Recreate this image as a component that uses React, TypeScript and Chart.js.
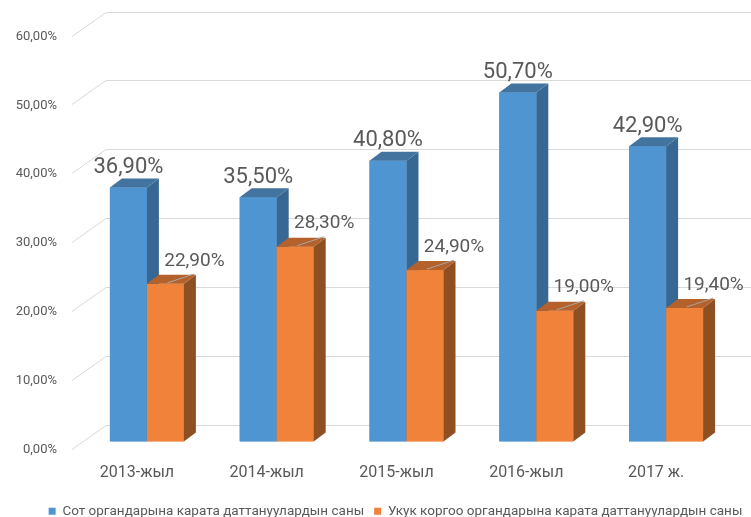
import React, { useEffect, useRef } from "react";
import { Chart, registerables } from "chart.js";

Chart.register(...registerables);

const categories = ["2013-жыл", "2014-жыл", "2015-жыл", "2016-жыл", "2017 ж."];
const seriesNames = [
  "Сот органдарына карата даттануулардын саны",
  "Укук коргоо органдарына карата даттануулардын саны",
];
const courtValues = [36.9, 35.5, 40.8, 50.7, 42.9];
const lawValues = [22.9, 28.3, 24.9, 19.0, 19.4];
const yTicks = [0, 10, 20, 30, 40, 50, 60];

const FONT = "Roboto, 'Open Sans', sans-serif";
const TEXT = "#595959";
const GRID = "#D9D9D9";
const DEPTH_X = 12;
const DEPTH_Y = -9;

const faceColors = [
  { front: "#4F95D2", side: "#376893", top: "#43739F" },
  { front: "#F0823A", side: "#8E4F23", top: "#B5612B" },
];

const fmt = (v: number) => v.toFixed(2).replace(".", ",") + "%";

const threeD = {
  id: "threeD",
  afterLayout(chart: any) {
    const lg = chart.legend;
    if (lg) {
      lg.left += 30;
      lg.right += 30;
    }
  },
  beforeDatasetsDraw(chart: any) {
    const ctx = chart.ctx;
    const y = chart.scales.y;
    ctx.save();
    ctx.strokeStyle = GRID;
    ctx.lineWidth = 1;
    for (const t of y.ticks) {
      const fy = y.getPixelForValue(t.value);
      ctx.beginPath();
      ctx.moveTo(72, Math.round(fy + 7) + 0.5);
      ctx.lineTo(106, Math.round(fy - 17) + 0.5);
      ctx.lineTo(chart.width, Math.round(fy - 17) + 0.5);
      ctx.stroke();
    }
    ctx.restore();
  },
  afterDatasetsDraw(chart: any) {
    const ctx = chart.ctx;
    const metas = [chart.getDatasetMeta(0), chart.getDatasetMeta(1)];
    ctx.save();
    for (let i = 0; i < categories.length; i++) {
      metas.forEach((meta: any, d: number) => {
        const bar = meta.data[i];
        const { x, y, base, width } = bar.getProps(["x", "y", "base", "width"], true);
        const x0 = x - width / 2;
        const x1 = x + width / 2;
        const c = faceColors[d];
        ctx.fillStyle = c.front;
        ctx.fillRect(x0, y, width, base - y);
        ctx.fillStyle = c.side;
        ctx.beginPath();
        ctx.moveTo(x1, y);
        ctx.lineTo(x1 + DEPTH_X, y + DEPTH_Y);
        ctx.lineTo(x1 + DEPTH_X, base + DEPTH_Y);
        ctx.lineTo(x1, base);
        ctx.closePath();
        ctx.fill();
        ctx.fillStyle = c.top;
        ctx.beginPath();
        ctx.moveTo(x0, y);
        ctx.lineTo(x1, y);
        ctx.lineTo(x1 + DEPTH_X, y + DEPTH_Y);
        ctx.lineTo(x0 + DEPTH_X, y + DEPTH_Y);
        ctx.closePath();
        ctx.fill();
      });
    }
    ctx.fillStyle = TEXT;
    ctx.textAlign = "center";
    ctx.textBaseline = "middle";
    metas.forEach((meta: any, d: number) => {
      const values = d === 0 ? courtValues : lawValues;
      meta.data.forEach((bar: any, i: number) => {
        const { x, y } = bar.getProps(["x", "y"], true);
        if (d === 0) {
          ctx.font = `22px ${FONT}`;
          ctx.fillText(fmt(values[i]), x, y - 20);
        } else {
          const lx = x + 29;
          const ly = y - 23;
          ctx.strokeStyle = "#A6A6A6";
          ctx.lineWidth = 1;
          ctx.beginPath();
          ctx.moveTo(x + 2, y - 1);
          ctx.lineTo(lx, ly + 13);
          ctx.stroke();
          ctx.font = `19px ${FONT}`;
          ctx.fillText(fmt(values[i]), lx, ly);
        }
      });
    });
    ctx.restore();
  },
};

export default function App() {
  const ref = useRef<HTMLCanvasElement | null>(null);
  useEffect(() => {
    if (!ref.current) return;
    const chart = new Chart(ref.current, {
      type: "bar",
      data: {
        labels: categories,
        datasets: [
          { label: seriesNames[0], data: courtValues, backgroundColor: faceColors[0].front },
          { label: seriesNames[1], data: lawValues, backgroundColor: faceColors[1].front },
        ],
      },
      options: {
        animation: false,
        responsive: false,
        layout: { padding: { top: 28.5, right: 20, bottom: -11, left: 0 } },
        datasets: { bar: { categoryPercentage: 0.57, barPercentage: 1 } },
        plugins: {
          legend: {
            position: "bottom",
            labels: {
              boxWidth: 7,
              boxHeight: 7,
              padding: 10,
              color: TEXT,
              font: { family: FONT, size: 13.5 },
            },
          },
          tooltip: { enabled: false },
        },
        scales: {
          x: {
            grid: { display: false },
            border: { display: false },
            ticks: { color: TEXT, font: { family: FONT, size: 16 }, padding: 14, labelOffset: -10 },
            afterFit: (s: any) => { s.height = 53; },
          },
          y: {
            min: 0,
            max: 60,
            afterBuildTicks: (s: any) => { s.ticks = yTicks.map((v) => ({ value: v })); },
            grid: { display: false, drawTicks: false },
            border: { display: false },
            ticks: {
              color: TEXT,
              font: { family: FONT, size: 13 },
              padding: 25,
              labelOffset: 8,
              callback: (v: any) => fmt(Number(v)),
            },
            afterFit: (s: any) => {
              s.width = 82;
              s.paddingTop = 0;
              s.paddingBottom = 0;
            },
          },
        },
      },
      plugins: [threeD],
    });
    return () => chart.destroy();
  }, []);
  return (
    <div style={{ position: "fixed", left: 0, top: 0, width: 751, height: 517, background: "#fff" }}>
      <canvas ref={ref} width={751} height={517} />
    </div>
  );
}
